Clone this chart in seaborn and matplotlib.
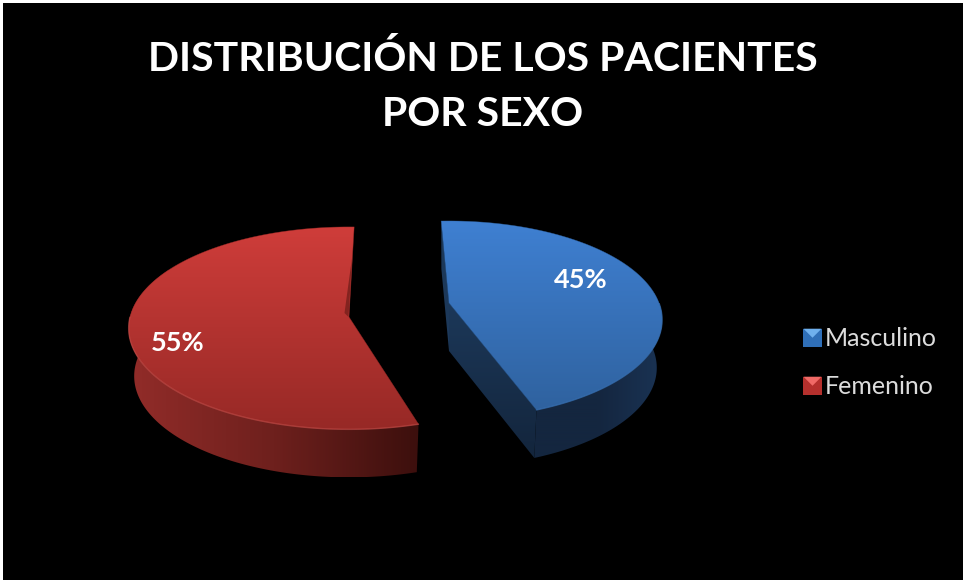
import numpy as np
import seaborn as sns
import matplotlib
matplotlib.use("Agg")
import matplotlib.pyplot as plt
from matplotlib.legend_handler import HandlerBase
from matplotlib.patches import PathPatch, Polygon, Patch
from matplotlib.path import Path

categories = ["Masculino", "Femenino"]
percent = [45, 55]
title = "DISTRIBUCIÓN DE LOS PACIENTES\nPOR SEXO"

# colours: top of slice (back to front), then side wall (left to right)
top_colors = [["#3f80d2", "#2f629f"], ["#cf3d3a", "#972926"]]
wall_colors = [["#14263f", "#14263f", "#1a3354"], ["#922c29", "#6e201d", "#3c0f0d"]]
face_colors = ["#1c3859", "#13253c"]
rim_colors = ["#3a74b8", "#c9504c"]
legend_colors = [("#2f6fb8", "#6fb0ee"), ("#b5302d", "#f06a66")]

# where each slice sits on the picture, in pixels
centers = [(449, 303), (349, 317)]
start_angle = [-2.5, 163.5]
radius = [(210, 96), (219, 100)]
persp = [0.17, 0.11]
depth = 48
shrink = 0.975

sns.set_theme(style="dark")
plt.rcParams["font.family"] = ["Lato", "DejaVu Sans"]


def project(i, r, ang, drop=0):
    # flat pie coordinates -> screen, front of the pie is drawn bigger
    ang = np.radians(ang)
    x, y = r * np.sin(ang), r * np.cos(ang)
    w = 1 + persp[i] * y
    sc = shrink if drop else 1
    return centers[i][0] + sc * radius[i][0] * x / w, centers[i][1] - radius[i][1] * y / w + drop


def grad_fill(ax, xs, ys, colors, horizontal=False):
    cmap = sns.blend_palette(colors, 256, as_cmap=True)
    g = np.linspace(0, 1, 256)
    g = g[None, :] if horizontal else g[:, None]
    im = ax.imshow(g, cmap=cmap, aspect="auto", origin="upper", interpolation="bilinear",
                   extent=[min(xs), max(xs), max(ys), min(ys)], zorder=2)
    verts = np.column_stack([xs, ys])
    clip = PathPatch(Path(np.vstack([verts, verts[:1]]), closed=True), transform=ax.transData)
    im.set_clip_path(clip)
    return im


class PyramidHandler(HandlerBase):
    def create_artists(self, legend, orig, x0, y0, w, h, fs, trans):
        dark, light = orig.get_facecolor(), orig.get_edgecolor()
        s = 13
        y0 = y0 + h / 2 - s / 2
        sq = Polygon([(x0, y0), (x0 + s, y0), (x0 + s, y0 + s), (x0, y0 + s)], fc=dark, ec="none", transform=trans)
        tri = Polygon([(x0, y0 + s), (x0 + s, y0 + s), (x0 + s / 2, y0 + s / 2)], fc=light, ec="none", transform=trans)
        return [sq, tri]


fig = plt.figure(figsize=(9.65, 5.8), dpi=100, facecolor="white")
ax = fig.add_axes([3 / 965, 0, 960 / 965, 577 / 580], facecolor="black")

start = list(start_angle)
for i, pct in enumerate(percent):
    a0 = start[i]
    a1 = a0 + pct * 3.6
    ang = np.linspace(a0, a1, 200)
    rx, ry = project(i, 1, ang)
    ax_, ay_ = project(i, 0, 0.0)

    # outer wall, only the part turned to the viewer
    front = ang[(np.cos(np.radians(ang)) < 0.12)]
    if i == 1:
        front = ang[(ang < 300)]
    fx, fy = project(i, 1, front)
    bx, by = project(i, 1, front, drop=depth)
    grad_fill(ax, np.r_[fx, bx[::-1]], np.r_[fy, by[::-1]], wall_colors[i], horizontal=True)

    if i == 0:
        # cut faces are only seen on the blue slice
        ex, ey = rx[-1], ry[-1]
        bex, bey = project(i, 1, a1, drop=depth)
        bax, bay = project(i, 0, 0.0, drop=depth)
        grad_fill(ax, [ax_, ex, bex, bax], [ay_, ey, bey, bay], face_colors)
        sx, sy = rx[0], ry[0]
        bsx, bsy = project(i, 1, a0, drop=depth)
        ax.fill([sx, ax_, bax, bsx], [sy, ay_, bay, bsy], color=face_colors[0], lw=0, zorder=2.5)

    xs, ys = np.r_[ax_, rx], np.r_[ay_, ry]
    grad_fill(ax, xs, ys, top_colors[i]).set_zorder(3)
    ax.plot(np.r_[ax_, rx, ax_], np.r_[ay_, ry, ay_], color=top_colors[i][1], lw=0.4, alpha=0.7, zorder=3.1)
    # soft light line on the front rim
    rim = np.cos(np.radians(ang)) < 0.0
    ax.plot(rx[rim], ry[rim], color=rim_colors[i], lw=1.0, alpha=0.6, zorder=3.2)

# small dark bevel beside the red slice's back edge
ax.fill([352, 348.5, 344.5], [258, 317, 313], color="#83231f", lw=0, zorder=3.3)

ax.set_xlim(3, 963)
ax.set_ylim(580, 3)
ax.axis("off")
ax.add_patch(plt.Rectangle((3, 3), 960, 577, color="black", zorder=0))

ax.text(483, 86.5, title, color="white", fontsize=29.5, fontweight="bold", ha="center", va="center",
        linespacing=1.6, zorder=5)
ax.text(581, 280, f"{percent[0]}%", color="white", fontsize=19.5, fontweight="bold", ha="center", va="center", zorder=5)
ax.text(178, 343, f"{percent[1]}%", color="white", fontsize=19.5, fontweight="bold", ha="center", va="center", zorder=5)

handles = [Patch(facecolor=d, edgecolor=l, label=c) for c, (d, l) in zip(categories, legend_colors)]
leg = ax.legend(handles=handles, loc="center left", bbox_to_anchor=(0.8104, 0.3761), frameon=False,
                fontsize=18, labelcolor="#dcdcdc", labelspacing=1.0, handlelength=0.6, handletextpad=0.24,
                handler_map={Patch: PyramidHandler()})

fig.savefig("out.png", dpi=100, facecolor="white")
